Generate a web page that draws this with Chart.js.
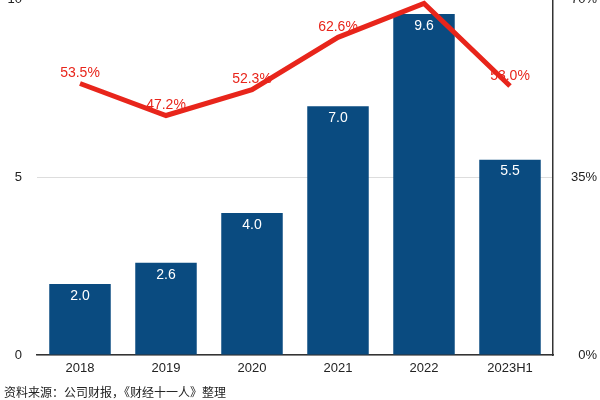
<!DOCTYPE html>
<html>
<head>
<meta charset="utf-8">
<script src="https://cdn.jsdelivr.net/npm/chart.js@4"></script>
<style>
  html, body { margin: 0; padding: 0; width: 600px; height: 400px; overflow: hidden; background: #fff; }
  #wrap { position: absolute; left: 0; top: -23px; width: 600px; height: 423px; }
  #src { position: absolute; left: 4px; top: 384px; font-family: "Noto Sans CJK SC", sans-serif; font-size: 12px; color: #222; line-height: 16px; white-space: nowrap; }
</style>
</head>
<body>
<div id="wrap"><canvas id="c"></canvas></div>
<div id="src">资料来源：公司财报，《财经十一人》整理</div>
<script>
const categories = ['2018', '2019', '2020', '2021', '2022', '2023H1'];
const barValues = [2.0, 2.6, 4.0, 7.0, 9.6, 5.5];
const ratioValues = [53.5, 47.2, 52.3, 62.6, 69.3, 53.0];
const leftTicks = [0, 5, 10];
const rightTicks = [0, 35, 70];

const BLUE = '#0a4b80';
const RED = '#e8251b';
const FONT = '"Liberation Sans", Arial, Helvetica, sans-serif';

const labelPlugin = {
  id: 'valueLabels',
  afterDatasetDraw(chart, args) {
    if (args.meta.type !== 'bar') return;
    const ctx = chart.ctx;
    ctx.save();
    ctx.font = '14px ' + FONT;
    ctx.textAlign = 'center';
    ctx.textBaseline = 'middle';
    ctx.fillStyle = '#ffffff';
    args.meta.data.forEach((el, i) => {
      ctx.fillText(barValues[i].toFixed(1), el.x, el.y + 12);
    });
    const lineMeta = chart.getDatasetMeta(1);
    ctx.fillStyle = RED;
    lineMeta.data.forEach((el, i) => {
      ctx.fillText(ratioValues[i].toFixed(1) + '%', el.x, el.y - 10);
    });
    ctx.restore();
  }
};

new Chart(document.getElementById('c'), {
  data: {
    labels: categories,
    datasets: [
      {
        type: 'bar',
        data: barValues,
        backgroundColor: BLUE,
        yAxisID: 'y',
        barPercentage: 0.715,
        categoryPercentage: 1.0,
        order: 1
      },
      {
        type: 'line',
        data: ratioValues,
        borderColor: RED,
        borderWidth: 5,
        pointRadius: 0,
        tension: 0,
        fill: false,
        yAxisID: 'y1',
        clip: false,
        order: 0
      }
    ]
  },
  options: {
    responsive: true,
    maintainAspectRatio: false,
    animation: false,
    layout: { padding: { left: 0, right: 3, top: 0, bottom: 0 } },
    plugins: { legend: { display: false }, tooltip: { enabled: false } },
    scales: {
      x: {
        grid: { display: false, drawTicks: false },
        border: { display: true, color: '#333', width: 1.5 },
        ticks: { color: '#222', font: { family: FONT, size: 13 }, padding: 6 },
        afterFit(s) { s.height = 45; }
      },
      y: {
        position: 'left',
        min: 0, max: 10,
        afterBuildTicks(s) { s.ticks = leftTicks.map(v => ({ value: v })); },
        grid: { color: '#dddddd', lineWidth: 1, drawTicks: false },
        border: { display: false },
        ticks: { color: '#222', font: { family: FONT, size: 13 }, padding: 15 },
        afterFit(s) { s.width = 37; }
      },
      y1: {
        position: 'right',
        min: 0, max: 70,
        afterBuildTicks(s) { s.ticks = rightTicks.map(v => ({ value: v })); },
        grid: { drawOnChartArea: false, drawTicks: false },
        border: { display: true, color: '#333', width: 1.5 },
        ticks: { color: '#222', font: { family: FONT, size: 13 }, crossAlign: 'far', callback: v => v + '%' },
        afterFit(s) { s.width = 44; }
      }
    }
  },
  plugins: [labelPlugin]
});
</script>
</body>
</html>
